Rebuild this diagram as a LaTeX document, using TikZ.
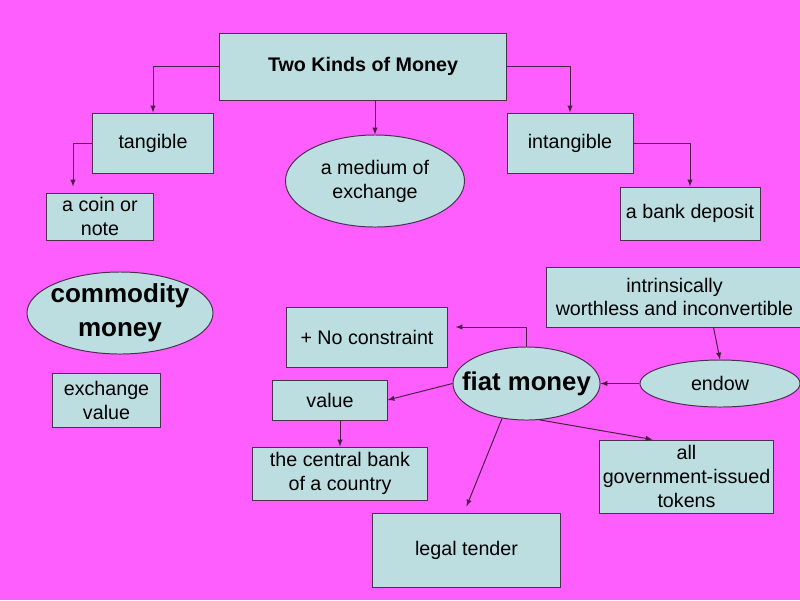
\documentclass[tikz,border=0pt]{standalone}
\usepackage{fontspec}
\setmainfont{Liberation Sans}
\usetikzlibrary{shapes.geometric}
\definecolor{bgpink}{HTML}{FF5EFF}
\definecolor{boxfill}{HTML}{BCDEE0}
\definecolor{boxline}{HTML}{4B2F4F}
\definecolor{linkline}{HTML}{4A1E44}
\tikzset{
    box/.style={draw=boxline,fill=boxfill,rectangle,line width=0.7pt,align=center,inner sep=0.5pt,font=\fontsize{14}{17}\selectfont},
    oval/.style={box,ellipse,inner sep=0pt},
    arr/.style={draw=linkline,line width=0.7pt,-latex},
}
\begin{document}
\begin{tikzpicture}[x=0.025cm,y=-0.025cm]
    %% Background
    \fill[bgpink] (0,0) rectangle (800,600);
    \useasboundingbox (0,0) rectangle (800,600);
    %% top of the tree
    \node[box,font=\fontsize{14}{17}\selectfont\bfseries,minimum width=7.15cm,minimum height=1.675cm] (kinds) at (363,66.5) {Two Kinds of Money};
    \node[box,minimum width=3cm,minimum height=1.5cm] (tangible) at (153,143) {tangible};
    \node[oval,minimum width=4.475cm,minimum height=2.3cm] (medium) at (375,181) {a medium of\\exchange};
    \node[box,minimum width=3.15cm,minimum height=1.5cm] (intangible) at (570,143) {intangible};
    \node[box,minimum width=2.65cm,minimum height=1.175cm] (coin) at (100,216.5) {a coin or\\note};
    \node[box,minimum width=3.5cm,minimum height=1.325cm] (bank) at (690,213.5) {a bank deposit};
    %% commodity money
    \node[oval,font=\fontsize{18.5}{24}\selectfont\bfseries,inner xsep=-3pt,minimum width=4.65cm,minimum height=2cm] (commodity) at (120,313) {commodity\\money};
    \node[box,minimum width=2.675cm,minimum height=1.35cm] (exchange) at (106.5,400) {exchange\\value};
    %% fiat money
    \node[oval,font=\fontsize{18.3}{22}\selectfont\bfseries,inner xsep=-9pt,minimum width=3.675cm,minimum height=1.825cm] (fiat) at (526.5,383.5) {fiat money};
    \node[box,minimum width=4cm,minimum height=1.5cm] (noconstr) at (367,337) {+ No constraint};
    \node[box,minimum width=2.85cm,minimum height=1cm] (value) at (330,400) {value};
    \node[box,minimum width=4.35cm,minimum height=1.325cm] (central) at (340,473.5) {the central bank\\of a country};
    \node[box,minimum width=4.675cm,minimum height=1.85cm] (legal) at (466.5,550) {legal tender};
    \node[box,minimum width=6.375cm,minimum height=1.5cm] (intrinsic) at (674.5,297) {intrinsically\\worthless and inconvertible};
    \node[oval,minimum width=4cm,minimum height=1.175cm] (endow) at (720,383.5) {endow};
    \node[box,minimum width=4.325cm,minimum height=1.825cm] (tokens) at (686.5,476.5) {all\\government-issued\\tokens};
    %% connectors
    \draw[arr] (kinds.west) -| (tangible.north);
    \draw[arr] (kinds.south -| medium.north) -- (medium.north);
    \draw[arr] (kinds.east) -| (intangible.north);
    \draw[arr] (tangible.west) -| ([xshift=-0.675cm,yshift=0.15cm]coin.north);
    \draw[arr] (intangible.east) -| (bank.north);
    \draw[arr] (fiat.north) |- ([xshift=0.2cm,yshift=0.25cm]noconstr.east);
    \draw[arr] (fiat.west) -- (value.east);
    \draw[arr] (value.south -| central.north) -- (central.north);
    \draw[arr] (fiat.235) -- ([yshift=0.15cm]legal.north);
    \draw[arr] (fiat.290) -- ([xshift=-0.85cm]tokens.north);
    \draw[arr] (endow.west) -- (fiat.east);
    \draw[arr] ([xshift=0.975cm]intrinsic.south) -- (endow.north);
\end{tikzpicture}
\end{document}
